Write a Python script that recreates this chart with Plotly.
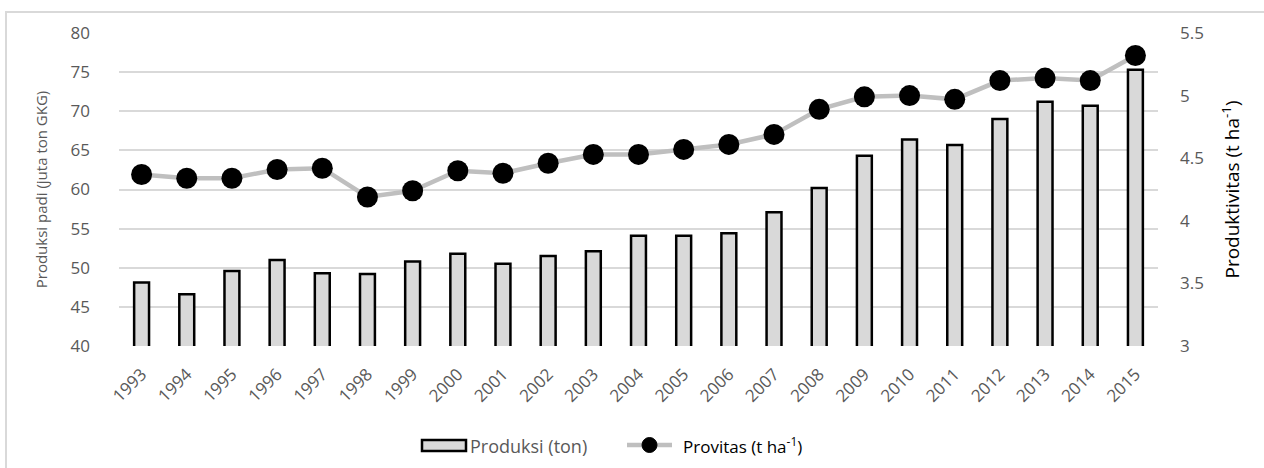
import plotly.graph_objects as go

years = [str(y) for y in range(1993, 2016)]
produksi = [48.1, 46.6, 49.6, 51.0, 49.3, 49.2, 50.8, 51.8, 50.5, 51.5, 52.1, 54.1,
            54.1, 54.4, 57.1, 60.2, 64.3, 66.4, 65.7, 69.0, 71.2, 70.7, 75.3]
provitas = [4.37, 4.34, 4.34, 4.41, 4.42, 4.19, 4.24, 4.40, 4.38, 4.46, 4.53, 4.53,
            4.57, 4.61, 4.69, 4.89, 4.99, 5.00, 4.97, 5.12, 5.14, 5.12, 5.32]
y1_ticks = [40, 45, 50, 55, 60, 65, 70, 75, 80]
y2_ticks = [3, 3.5, 4, 4.5, 5, 5.5]

FONT = "Open Sans"
GRAY = "#595959"

# plot area in pixels (for converting legend positions)
L, R, T, B = 119, 1158, 33, 346
W, H = R - L, B - T


def px(x):
    return (x - L) / W


def py(y):
    return (B - y) / H


fig = go.Figure()
fig.add_trace(go.Bar(
    x=years, y=produksi, name="Produksi (ton)",
    marker=dict(color="#d9d9d9", line=dict(color="black", width=2.5)),
    width=0.33, yaxis="y",
))
fig.add_trace(go.Scatter(
    x=years, y=provitas, name="Provitas (t ha<sup>-1</sup>)",
    mode="lines+markers",
    line=dict(color="#bfbfbf", width=4.5),
    marker=dict(color="black", size=21),
    yaxis="y2",
))

# outer chart border
fig.add_shape(type="rect", xref="paper", yref="paper",
              x0=px(6), x1=1.2, y0=-0.5, y1=py(12),
              line=dict(color="#d9d9d9", width=2), fillcolor="rgba(0,0,0,0)", layer="below")

# custom legend
fig.add_shape(type="rect", xref="paper", yref="paper",
              x0=px(422), x1=px(466), y0=py(451), y1=py(440),
              line=dict(color="black", width=2.5), fillcolor="#d9d9d9")
fig.add_annotation(xref="paper", yref="paper", x=px(468), y=py(445.5),
                   xanchor="left", yanchor="middle", showarrow=False,
                   text="Produksi (ton)", font=dict(family=FONT, size=18, color=GRAY))
fig.add_shape(type="line", xref="paper", yref="paper",
              x0=px(627), x1=px(672), y0=py(445), y1=py(445),
              line=dict(color="#bfbfbf", width=4.5))
fig.add_shape(type="circle", xref="paper", yref="paper",
              xsizemode="pixel", ysizemode="pixel",
              xanchor=px(649.5), yanchor=py(445),
              x0=-7.5, x1=7.5, y0=-7.5, y1=7.5,
              line=dict(color="black", width=1), fillcolor="black")
fig.add_annotation(xref="paper", yref="paper", x=px(681), y=py(445.5),
                   xanchor="left", yanchor="middle", showarrow=False,
                   text="Provitas (t ha<sup>-1</sup>)", font=dict(family=FONT, size=17, color="black"))

fig.update_layout(
    width=1264, height=468,
    margin=dict(l=L, r=1264 - R, t=T, b=468 - B),
    paper_bgcolor="white", plot_bgcolor="white",
    font=dict(family=FONT, size=15, color=GRAY),
    showlegend=False,
    bargap=0.6,
    xaxis=dict(
        type="category", range=[-0.5, len(years) - 0.5], tickangle=-45,
        showgrid=False, showline=False, zeroline=False, automargin=False,
        tickfont=dict(family=FONT, size=17, color=GRAY), ticks="", ticklabelstandoff=14,
    ),
    yaxis=dict(
        range=[40, 80], tickvals=y1_ticks, showgrid=True, gridcolor="#d9d9d9", gridwidth=1.5,
        zeroline=False, showline=False, ticks="", automargin=False,
        tickfont=dict(family=FONT, size=17, color=GRAY), ticklabelstandoff=28,
        title=dict(text="Produksi padi (juta ton GKG)", standoff=19,
                   font=dict(family=FONT, size=15, color=GRAY)),
    ),
    yaxis2=dict(
        range=[3, 5.5], tickvals=y2_ticks, overlaying="y", side="right", showgrid=False,
        zeroline=False, showline=False, ticks="", automargin=False,
        tickfont=dict(family=FONT, size=17, color=GRAY), ticklabelstandoff=21,
        title=dict(text="Produktivitas (t ha<sup>-1</sup>)", standoff=22,
                   font=dict(family=FONT, size=19, color="black")),
    ),
)

fig.write_html("out.html", config={"displayModeBar": False},
               post_script="document.body.style.margin='0';")
